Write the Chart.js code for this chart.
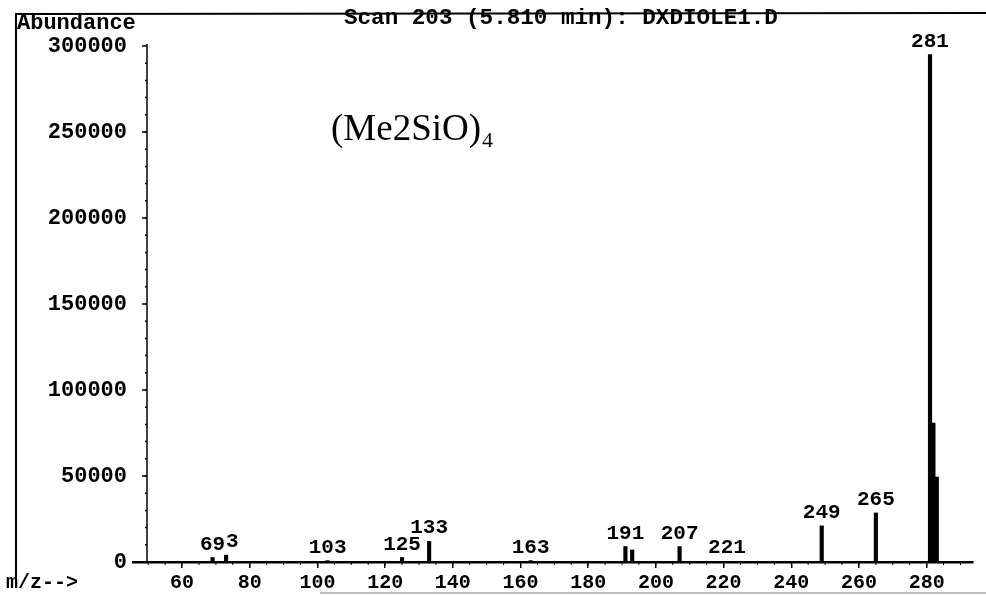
<!DOCTYPE html>
<html>
<head>
<meta charset="utf-8">
<script src="https://cdn.jsdelivr.net/npm/chart.js@4.4.1/dist/chart.umd.min.js"></script>
<style>
  body { margin: 0; background: #fff; }
  canvas { display: block; }
</style>
</head>
<body>
<canvas id="ms-chart" width="986" height="596"></canvas>
<script>
// data spektrum (m/z dan abundance)
const mzValues = [69, 73, 103, 125, 133, 163, 191, 193, 207, 221, 249, 265, 281, 282, 283];
const abundance = [2600, 4000, 800, 2600, 12000, 800, 9000, 7000, 9000, 300, 21000, 28500, 295000, 80800, 49400];
const peakLabels = ["69", "73", "103", "125", "133", "163", "191", "", "207", "221", "249", "265", "281", "", ""];
const xTicks = [60, 80, 100, 120, 140, 160, 180, 200, 220, 240, 260, 280];
const yTicks = [0, 50000, 100000, 150000, 200000, 250000, 300000];

const monoFont = "'Liberation Mono', 'DejaVu Sans Mono', monospace";

// plugin untuk frame, sumbu dan label puncak
const spectrumDecor = {
  id: "spectrumDecor",
  beforeDraw(chart) {
    const ctx = chart.ctx;
    ctx.save();
    ctx.fillStyle = "#fff";
    ctx.fillRect(0, 0, chart.width, chart.height);
    ctx.restore();
  },
  afterDraw(chart) {
    const ctx = chart.ctx;
    const area = chart.chartArea;
    const xs = chart.scales.x;
    const ys = chart.scales.y;
    const axisX = area.left + 14;

    ctx.save();
    ctx.strokeStyle = "#000";
    ctx.fillStyle = "#000";

    // frame luar
    ctx.lineWidth = 2;
    ctx.beginPath();
    ctx.moveTo(16, 578);
    ctx.lineTo(16, 14);
    ctx.lineTo(986, 13);
    ctx.stroke();

    ctx.strokeStyle = "#bbb";
    ctx.beginPath();
    ctx.moveTo(320, 593);
    ctx.lineTo(986, 593);
    ctx.stroke();
    ctx.strokeStyle = "#000";

    // sumbu y
    ctx.lineWidth = 1.5;
    ctx.beginPath();
    ctx.moveTo(axisX, ys.getPixelForValue(300000) - 2);
    ctx.lineTo(axisX, area.bottom);
    ctx.stroke();
    yTicks.forEach((v) => {
      const y = ys.getPixelForValue(v);
      ctx.beginPath();
      ctx.moveTo(axisX - 5, y);
      ctx.lineTo(axisX, y);
      ctx.stroke();
    });
    for (let v = 10000; v < 300000; v += 10000) {
      const y = ys.getPixelForValue(v);
      ctx.beginPath();
      ctx.moveTo(axisX - 2, y);
      ctx.lineTo(axisX, y);
      ctx.stroke();
    }

    // minor tick sumbu x
    ctx.lineWidth = 1;
    for (let m = 50; m <= 290; m += 5) {
      const x = xs.getPixelForValue(m);
      ctx.beginPath();
      ctx.moveTo(x, area.bottom);
      ctx.lineTo(x, area.bottom + 3);
      ctx.stroke();
    }

    // label puncak, kanan ke kiri supaya label kiri menutupi
    ctx.font = "bold 21px " + monoFont;
    ctx.textAlign = "center";
    ctx.textBaseline = "alphabetic";
    for (let i = mzValues.length - 1; i >= 0; i--) {
      const txt = peakLabels[i];
      if (!txt) continue;
      const x = xs.getPixelForValue(mzValues[i]);
      const y = ys.getPixelForValue(abundance[i]) - 8;
      const w = ctx.measureText(txt).width;
      ctx.fillStyle = "#fff";
      ctx.fillRect(x - w / 2, y - 16, w, 17);
      ctx.fillStyle = "#000";
      ctx.fillText(txt, x, y);
    }

    // teks judul dan sumbu
    ctx.font = "bold 22px " + monoFont;
    ctx.textAlign = "left";
    ctx.fillText("Abundance", 17, 29);
    ctx.font = "bold 22.6px " + monoFont;
    ctx.fillText("Scan 203 (5.810 min): DXDIOLE1.D", 344, 24);
    ctx.font = "bold 20px " + monoFont;
    ctx.fillText("m/z-->", 6, 588);

    // nama senyawa
    ctx.font = "37px 'Liberation Serif', 'DejaVu Serif', serif";
    ctx.fillText("(Me2SiO)", 331, 140);
    const w = ctx.measureText("(Me2SiO)").width;
    ctx.font = "22px 'Liberation Serif', 'DejaVu Serif', serif";
    ctx.fillText("4", 331 + w + 1, 147);

    ctx.restore();
  },
};

function initializeSpectrum() {
  const ctx = document.getElementById("ms-chart").getContext("2d");
  const points = mzValues.map((m, i) => ({ x: m, y: abundance[i] }));

  new Chart(ctx, {
    type: "bar",
    data: {
      datasets: [
        {
          label: "Abundance",
          data: points,
          backgroundColor: "#000",
          borderWidth: 0,
          barThickness: 3.5,
        },
      ],
    },
    options: {
      responsive: false,
      animation: false,
      devicePixelRatio: 1,
      layout: {
        padding: { top: 46, right: 13, bottom: 0, left: 0 },
      },
      plugins: {
        legend: { display: false },
        title: { display: false },
        tooltip: { enabled: false },
      },
      scales: {
        x: {
          type: "linear",
          offset: false,
          min: 45.5,
          max: 293.7,
          afterFit: (s) => { s.height = 34; },
          afterBuildTicks: (s) => { s.ticks = xTicks.map((v) => ({ value: v })); },
          grid: {
            offset: false,
            drawOnChartArea: false,
            drawTicks: true,
            tickLength: 6,
            color: "#000",
            lineWidth: 1.5,
          },
          border: { display: true, color: "#000", width: 2.5 },
          ticks: {
            color: "#000",
            padding: 3,
            maxRotation: 0,
            font: { family: monoFont, size: 20, weight: "bold" },
          },
        },
        y: {
          min: 0,
          max: 300000,
          afterFit: (s) => { s.width = 133; },
          afterBuildTicks: (s) => { s.ticks = yTicks.map((v) => ({ value: v })); },
          grid: { display: false },
          border: { display: false },
          ticks: {
            color: "#000",
            padding: -2,
            font: { family: monoFont, size: 22, weight: "bold" },
            callback: (v) => String(v),
          },
        },
      },
    },
    plugins: [spectrumDecor],
  });
}

document.addEventListener("DOMContentLoaded", initializeSpectrum);
</script>
</body>
</html>
